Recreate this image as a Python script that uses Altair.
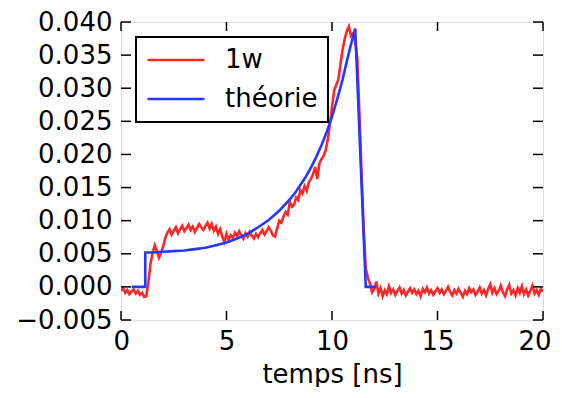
import altair as alt
import numpy as np
import pandas as pd

# measured signal "1w" sampled every 0.1 ns from 0 to 20 ns
red_v = [
    -0.0006, -0.0002, -0.0009, -0.0005, -0.0011, -0.0007, -0.0004, -0.0010, -0.0006, -0.0012,
    -0.0009, -0.0015, -0.0014, 0.0008, 0.0035, 0.0052, 0.0063, 0.0054, 0.0044, 0.0052,
    0.0061, 0.0074, 0.0082, 0.0087, 0.0079, 0.0085, 0.0090, 0.0081, 0.0087, 0.0092,
    0.0084, 0.0089, 0.0094, 0.0086, 0.0091, 0.0083, 0.0089, 0.0095, 0.0090, 0.0086,
    0.0092, 0.0097, 0.0088, 0.0095, 0.0085, 0.0091, 0.0080, 0.0087, 0.0076, 0.0068,
    0.0080, 0.0071, 0.0078, 0.0074, 0.0082, 0.0077, 0.0084, 0.0078, 0.0073, 0.0081,
    0.0076, 0.0083, 0.0077, 0.0073, 0.0080, 0.0075, 0.0081, 0.0086, 0.0079, 0.0084,
    0.0090, 0.0085, 0.0078, 0.0076, 0.0088, 0.0100, 0.0097, 0.0106, 0.0113, 0.0109,
    0.0128, 0.0121, 0.0124, 0.0135, 0.0131, 0.0146, 0.0141, 0.0152, 0.0145, 0.0158,
    0.0163, 0.0170, 0.0181, 0.0163, 0.0186, 0.0193, 0.0198, 0.0207, 0.0222, 0.0245,
    0.0272, 0.0296, 0.0305, 0.0313, 0.0336, 0.0358, 0.0374, 0.0386, 0.0393, 0.0379,
    0.0383, 0.0370, 0.0345, 0.0262, 0.0172, 0.0088, 0.0028, 0.0014, 0.0005, -0.0008,
    -0.0003, 0.0008, -0.0010, -0.0002, -0.0014, -0.0005, -0.0011, 0.0001, -0.0009, -0.0004,
    -0.0012, -0.0006, -0.0001, -0.0010, -0.0005, -0.0013, -0.0007, -0.0002, -0.0009, -0.0004,
    -0.0011, -0.0006, -0.0014, -0.0003, -0.0008, -0.0001, -0.0010, -0.0005, -0.0012, -0.0007,
    -0.0002, -0.0009, -0.0004, -0.0011, -0.0006, 0.0000, -0.0008, -0.0013, -0.0005, -0.0010,
    -0.0003, -0.0009, -0.0015, -0.0006, -0.0011, -0.0002, -0.0008, -0.0004, -0.0012, -0.0007,
    -0.0001, -0.0010, -0.0005, -0.0013, -0.0003, 0.0004, -0.0009, -0.0002, -0.0011, -0.0006,
    0.0002, -0.0008, -0.0014, -0.0004, 0.0003, -0.0010, -0.0005, -0.0013, -0.0002, -0.0009,
    0.0001, -0.0011, -0.0004, -0.0013, -0.0006, 0.0002, -0.0010, -0.0005, -0.0012, -0.0003,
    -0.0007,
]
red_t = [round(0.1 * i, 1) for i in range(len(red_v))]

# theory curve
blue_t = [0.5, 1.15, 1.15, 1.5, 2.0, 2.5, 3.0, 3.5, 4.0, 4.5, 5.0, 5.5, 6.0, 6.5, 7.0,
          7.5, 8.0, 8.25, 8.5, 8.75, 9.0, 9.25, 9.5, 9.75, 10.0, 10.25, 10.5, 10.75,
          10.9, 11.1, 11.6, 12.1]
blue_v = [0.0, 0.0, 0.0052, 0.0052, 0.0053, 0.0054, 0.0055, 0.0057, 0.0059, 0.0063,
          0.0067, 0.0073, 0.0080, 0.0090, 0.0101, 0.0115, 0.0132, 0.0142, 0.0154,
          0.0166, 0.0180, 0.0196, 0.0214, 0.0234, 0.0257, 0.0284, 0.0313, 0.0347,
          0.0366, 0.0390, 0.0, 0.0]

series_names = ["1w", "théorie"]
series_colors = ["#ff2626", "#2638ff"]
x_ticks = [0, 5, 10, 15, 20]
y_ticks = [-0.005, 0.0, 0.005, 0.010, 0.015, 0.020, 0.025, 0.030, 0.035, 0.040]

W, H = 422, 298
FONT = "DejaVu Sans"

df = pd.concat([
    pd.DataFrame({"t": red_t, "v": red_v, "s": series_names[0], "i": range(len(red_t))}),
    pd.DataFrame({"t": blue_t, "v": blue_v, "s": series_names[1], "i": range(len(blue_t))}),
], ignore_index=True)

xs = alt.Scale(domain=[0, 20], nice=False, zero=False)
ys = alt.Scale(domain=[-0.005, 0.040], nice=False, zero=False)

xaxis = alt.Axis(values=x_ticks, format="d", title="temps [ns]", domain=False, ticks=False,
                 tickSize=0, grid=False, labelFlush=True, labelFlushOffset=8,
                 labelPadding=8, titlePadding=7,
                 labelFontSize=26, titleFontSize=26, labelFont=FONT, titleFont=FONT,
                 labelColor="black", titleColor="black", titleFontWeight="normal")
yaxis = alt.Axis(values=y_ticks, format=".3f", title=None, domain=False, ticks=False,
                 tickSize=0, grid=False, labelPadding=9, labelFontSize=26, labelFont=FONT,
                 labelColor="black", labelOverlap=False)

lines = alt.Chart(df).mark_line(strokeWidth=2.6, clip=True).encode(
    x=alt.X("t:Q", scale=xs, axis=xaxis),
    y=alt.Y("v:Q", scale=ys, axis=yaxis),
    color=alt.Color("s:N", scale=alt.Scale(domain=series_names, range=series_colors),
                    legend=alt.Legend(title=None, orient="none", legendX=15, legendY=15,
                                      symbolType="stroke", symbolSize=3249,
                                      symbolStrokeWidth=2.5, clipHeight=26,
                                      labelFontSize=26, labelFont=FONT, labelColor="black",
                                      labelOffset=19, padding=10, rowPadding=13,
                                      fillColor="white", strokeColor="black")),
    order="i:Q",
)

xt = pd.DataFrame({"t": x_ticks})
yt = pd.DataFrame({"v": y_ticks})
tick_style = dict(color="black", strokeWidth=1.5)
xb = alt.Chart(xt).mark_rule(**tick_style).encode(
    x=alt.X("t:Q", scale=xs, axis=xaxis), y=alt.value(H), y2=alt.value(H - 9))
xtp = alt.Chart(xt).mark_rule(**tick_style).encode(
    x=alt.X("t:Q", scale=xs, axis=xaxis), y=alt.value(0), y2=alt.value(9))
yl = alt.Chart(yt).mark_rule(**tick_style).encode(
    y=alt.Y("v:Q", scale=ys, axis=yaxis), x=alt.value(0), x2=alt.value(10))
yr = alt.Chart(yt).mark_rule(**tick_style).encode(
    y=alt.Y("v:Q", scale=ys, axis=yaxis), x=alt.value(W - 10), x2=alt.value(W))

chart = alt.layer(lines, xb, xtp, yl, yr).properties(
    width=W, height=H,
    autosize=alt.AutoSizeParams(type="none"),
    padding={"left": 113, "top": 14, "right": 11, "bottom": 67},
).configure_view(stroke="black", strokeWidth=2).configure(font=FONT).configure_legend(
    strokeWidth=2)

chart.save("out.html", embed_options={"renderer": "svg", "actions": False})
